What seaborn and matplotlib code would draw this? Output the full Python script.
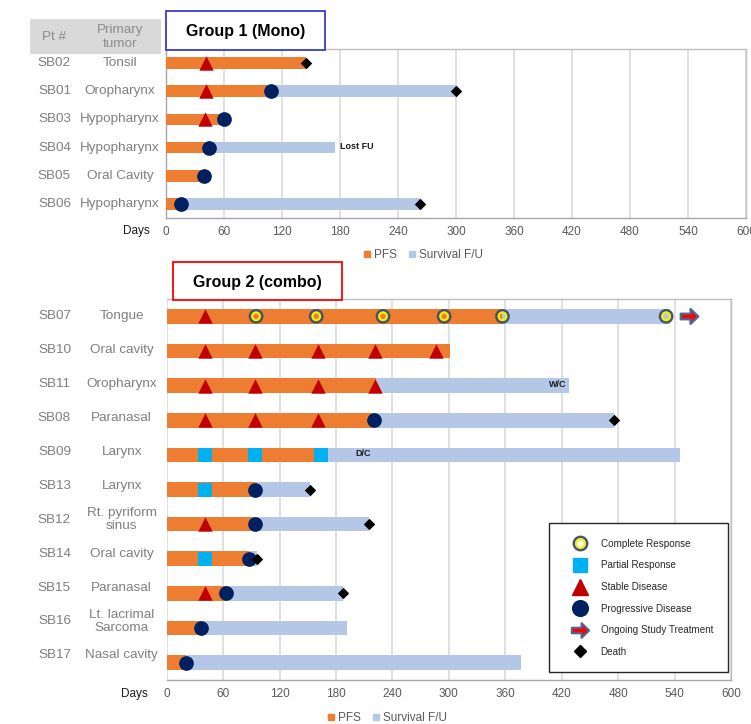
import numpy as np
import pandas as pd
import matplotlib
matplotlib.use("Agg")
import matplotlib.pyplot as plt
import seaborn as sns
from matplotlib.lines import Line2D
from matplotlib.path import Path
from matplotlib.patches import Rectangle
from matplotlib.transforms import blended_transform_factory

# ---------------- Group 1 (monotherapy) ----------------
g1_patients = ["SB02", "SB01", "SB03", "SB04", "SB05", "SB06"]
g1_tumors = ["Tonsil", "Oropharynx", "Hypopharynx", "Hypopharynx", "Oral Cavity", "Hypopharynx"]
g1_pfs = [145, 109, 60, 44, 39, 15]
g1_survival = [145, 300, 60, 175, 39, 263]
g1_sd = {"SB02": [41], "SB01": [41], "SB03": [40]}
g1_pd = {"SB01": [109], "SB03": [60], "SB04": [44], "SB05": [39], "SB06": [15]}
g1_death = {"SB02": [145], "SB01": [300], "SB06": [263]}
g1_notes = {"SB04": ("Lost FU", 180, "left")}

# ---------------- Group 2 (combination) ----------------
g2_patients = ["SB07", "SB10", "SB11", "SB08", "SB09", "SB13", "SB12", "SB14", "SB15", "SB16", "SB17"]
g2_tumors = ["Tongue", "Oral cavity", "Oropharynx", "Paranasal", "Larynx", "Larynx",
             "Rt. pyriform\nsinus", "Oral cavity", "Paranasal", "Lt. lacrimal\nSarcoma", "Nasal cavity"]
g2_pfs = [357, 301, 223, 220, 164, 94, 94, 88, 63, 37, 21]
g2_survival = [535, 301, 428, 476, 546, 152, 215, 96, 187, 192, 377]
g2_cr = {"SB07": [95, 159, 230, 295, 357, 531]}
g2_pr = {"SB09": [41, 94, 164], "SB13": [41], "SB14": [41]}
g2_sd = {"SB07": [41], "SB10": [41, 94, 161, 221, 286], "SB11": [41, 94, 161, 222],
         "SB08": [41, 94, 161], "SB12": [41], "SB15": [41]}
g2_pd = {"SB08": [220], "SB13": [94], "SB12": [94], "SB14": [88], "SB15": [63], "SB16": [37], "SB17": [21]}
g2_death = {"SB08": [476], "SB13": [152], "SB12": [215], "SB14": [96], "SB15": [187]}
g2_ongoing = {"SB07": [555]}
g2_notes = {"SB11": ("W/C", 425, "right"), "SB09": ("D/C", 209, "center")}

day_ticks = list(range(0, 601, 60))

# ---------------- styling ----------------
ORANGE = "#ED7D31"
LIGHTBLUE = "#B4C7E7"
RED = "#C00000"
NAVY = "#002060"
CYAN = "#00B0F0"
SLATE = "#44546A"
YELLOW = "#F2F200"
GRID = "#DDDDDD"
SPINE = "#BFBFBF"
GREY_TXT = "#7F7F7F"
TICK_TXT = "#595959"

sns.set_theme(style="white")
plt.rcParams["font.family"] = ["Liberation Sans", "DejaVu Sans"]

W, H = 751, 724
fig = plt.figure(figsize=(W / 100, H / 100), dpi=100)


def fx(x):
    return x / W


def fy(y):
    return 1 - y / H


arrow_path = Path(
    [(-1, 0.32), (0.12, 0.32), (0.12, 0.85), (1, 0), (0.12, -0.85), (0.12, -0.32), (-1, -0.32), (-1, 0.32)],
    [Path.MOVETO] + [Path.LINETO] * 6 + [Path.CLOSEPOLY],
)


def events_frame(events, index):
    rows = [(index[p], d) for p, days in events.items() for d in days]
    return pd.DataFrame(rows, columns=["row", "day"])


def draw_panel(ax, patients, pfs, survival, markers):
    n = len(patients)
    df = pd.DataFrame({"row": np.arange(n), "patient": patients, "pfs": pfs, "survival": survival})
    sns.barplot(data=df, x="survival", y="row", orient="h", native_scale=True, color=LIGHTBLUE,
                width=0.42, saturation=1, errorbar=None, linewidth=0, ax=ax, zorder=2)
    sns.barplot(data=df, x="pfs", y="row", orient="h", native_scale=True, color=ORANGE,
                width=0.42, saturation=1, errorbar=None, linewidth=0, ax=ax, zorder=3)
    index = {p: i for i, p in enumerate(patients)}
    for events, kws in markers:
        if not events:
            continue
        ev = events_frame(events, index)
        sns.scatterplot(data=ev, x="day", y="row", ax=ax, legend=False, zorder=5, **kws)
    ax.set_xlim(0, 600)
    ax.set_ylim(n - 0.5, -0.5)
    ax.set_xticks(day_ticks)
    ax.set_xticklabels([str(t) for t in day_ticks])
    ax.set_yticks([])
    ax.set_xlabel("")
    ax.set_ylabel("")
    ax.set_axisbelow(True)
    ax.xaxis.grid(True, color=GRID, linewidth=1.3)
    ax.yaxis.grid(False)
    ax.tick_params(axis="x", length=0, pad=6, labelsize=8.5, labelcolor=TICK_TXT)
    for s in ax.spines.values():
        s.set_color(SPINE)
        s.set_linewidth(1.0)
    return df


def marker_specs(sd, pd_, death, pr=None, cr=None, ongoing=None):
    specs = []
    if pr:
        specs.append((pr, dict(marker="s", s=100, color=CYAN, linewidth=0)))
    specs.append((sd, dict(marker="^", s=108, color=RED, linewidth=0)))
    specs.append((pd_, dict(marker="o", s=112, color=NAVY, linewidth=0)))
    if cr:
        specs.append((cr, dict(marker="o", s=78, facecolor="none", edgecolor=SLATE, linewidth=1.8)))
        specs.append((cr, dict(marker="o", s=30, facecolor="none", edgecolor=YELLOW, linewidth=1.5)))
    specs.append((death, dict(marker="D", s=34, color="black", linewidth=0)))
    if ongoing:
        specs.append((ongoing, dict(marker=arrow_path, s=160, color="#FF0000", edgecolor="#4A6A96",
                                    linewidth=1.6)))
    return specs


# ---------------- top panel ----------------
ax1 = fig.add_axes([fx(166), fy(218), fx(746) - fx(166), fy(49) - fy(218)])
draw_panel(ax1, g1_patients, g1_pfs, g1_survival, marker_specs(g1_sd, g1_pd, g1_death))
ax1.spines["left"].set_color("#A6A6A6")
ax1.spines["bottom"].set_color("#A6A6A6")

# ---------------- bottom panel ----------------
ax2 = fig.add_axes([fx(166.7), fy(680), fx(731) - fx(166.7), fy(299) - fy(680)])
draw_panel(ax2, g2_patients, g2_pfs, g2_survival,
           marker_specs(g2_sd, g2_pd, g2_death, pr=g2_pr, cr=g2_cr, ongoing=g2_ongoing))
ax2.spines["left"].set_visible(False)
ax2.spines["bottom"].set_color("#A6A6A6")

# annotations on bars
for ax, notes, pats in [(ax1, g1_notes, g1_patients), (ax2, g2_notes, g2_patients)]:
    for p, (txt, day, ha) in notes.items():
        ax.text(day, pats.index(p) - 0.04, txt, ha=ha, va="center", fontsize=6.5,
                fontweight="bold", color="#1a1a1a", zorder=6)

# row labels
for ax, pats, tumors, xt, scale in [(ax1, g1_patients, g1_tumors, 120, 1.0),
                                    (ax2, g2_patients, g2_tumors, 121.7, 0.979)]:
    tr = blended_transform_factory(fig.transFigure, ax.transData)
    for i, (p, t) in enumerate(zip(pats, tumors)):
        yy = i * scale
        ax.text(fx(54.5), yy, p, transform=tr, ha="center", va="center", fontsize=9.7,
                color=GREY_TXT, clip_on=False)
        ax.text(fx(xt), yy, t, transform=tr, ha="center", va="center", fontsize=9.7,
                color=GREY_TXT, linespacing=1.15, clip_on=False)

# header cell of the table
fig.patches.append(Rectangle((fx(30), fy(54)), fx(161) - fx(30), fy(19) - fy(54),
                             transform=fig.transFigure, facecolor="#D9D9D9", edgecolor="none"))
fig.text(fx(54.5), fy(37), "Pt #", ha="center", va="center", fontsize=9.7, color="#8C8C8C")
fig.text(fx(120), fy(37), "Primary\ntumor", ha="center", va="center", fontsize=9.7,
         color="#8C8C8C", linespacing=1.15)

# group titles
for (x0, y0, x1, y1), col, label in [((166, 11, 325, 50), "#3A3ACC", "Group 1 (Mono)"),
                                     ((173, 262, 342, 300), "#FF0000", "Group 2 (combo)")]:
    fig.patches.append(Rectangle((fx(x0), fy(y1)), fx(x1) - fx(x0), fy(y0) - fy(y1),
                                 transform=fig.transFigure, facecolor="white", edgecolor=col,
                                 linewidth=1.3, zorder=10))
    fig.text(fx((x0 + x1) / 2), fy((y0 + y1) / 2 + 1), label, ha="center", va="center",
             fontsize=11.5, fontweight="bold", color="black", zorder=11)

# axis captions
fig.text(fx(136), fy(231), "Days", ha="center", va="center", fontsize=8.5, color="#1a1a1a")
fig.text(fx(134), fy(694), "Days", ha="center", va="center", fontsize=8.5, color="#1a1a1a")

# PFS / Survival legends
bar_handles = [Line2D([], [], marker="s", linestyle="", color=ORANGE, markersize=5),
               Line2D([], [], marker="s", linestyle="", color=LIGHTBLUE, markersize=5)]
for cx, cy in [(423, 255), (387, 718)]:
    fig.legend(bar_handles, ["PFS", "Survival F/U"], loc="center", bbox_to_anchor=(fx(cx), fy(cy)),
               ncol=2, frameon=False, fontsize=8.5, handlelength=0.6, handletextpad=0.3,
               columnspacing=1.0, labelcolor=TICK_TXT, borderaxespad=0, borderpad=0)

# response legend
resp_handles = [
    (Line2D([], [], marker="o", linestyle="", markersize=9.6, markerfacecolor="white",
            markeredgecolor=SLATE, markeredgewidth=1.8),
     Line2D([], [], marker="o", linestyle="", markersize=6.2, markerfacecolor="none",
            markeredgecolor=YELLOW, markeredgewidth=1.5)),
    Line2D([], [], marker="s", linestyle="", markersize=10.6, color=CYAN),
    Line2D([], [], marker="^", linestyle="", markersize=11.5, color=RED),
    Line2D([], [], marker="o", linestyle="", markersize=11.3, color=NAVY),
    Line2D([], [], marker=arrow_path, linestyle="", markersize=12.5, markerfacecolor="#FF0000",
           markeredgecolor="#4A6A96", markeredgewidth=1.5),
    Line2D([], [], marker="D", linestyle="", markersize=5.8, color="black"),
]
resp_labels = ["Complete Response", "Partial Response", "Stable Disease", "Progressive Disease",
               "Ongoing Study Treatment", "Death"]
leg = ax2.legend(resp_handles, resp_labels, loc="upper left", bbox_to_anchor=(0.678, 0.411),
                 borderaxespad=0, fontsize=7.1, numpoints=1, handlelength=3.05, handletextpad=0.6,
                 labelspacing=1.18, borderpad=1.55, frameon=True, fancybox=False, framealpha=1,
                 edgecolor="#262626", labelcolor="#262626")
leg.get_frame().set_linewidth(1.0)
leg.set_zorder(20)

fig.savefig("out.png", dpi=100)
